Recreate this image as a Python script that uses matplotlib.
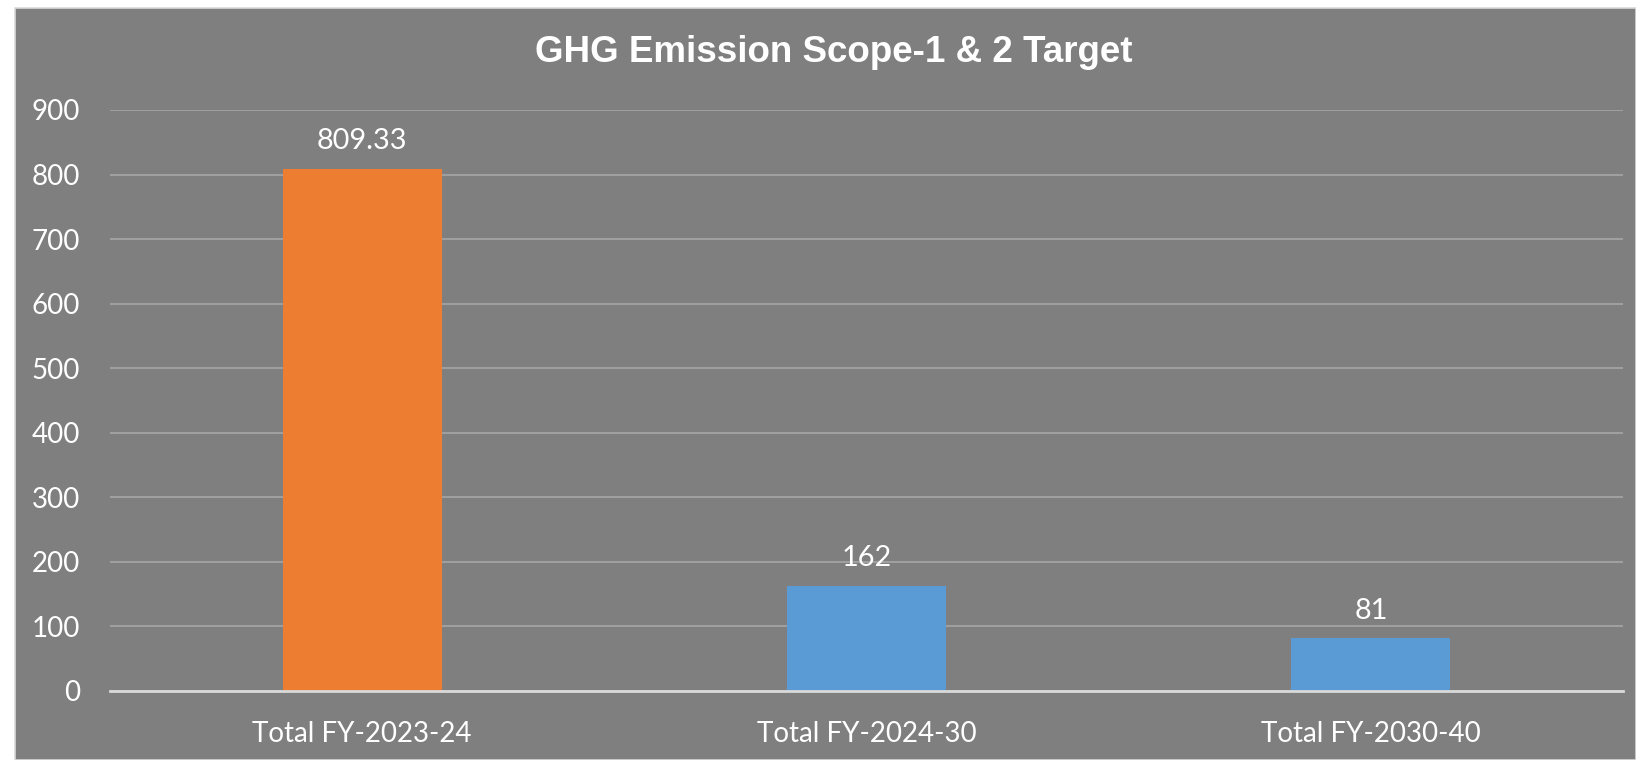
import matplotlib.pyplot as plt
from matplotlib.patches import Rectangle

# data
categories = ["Total FY-2023-24", "Total FY-2024-30", "Total FY-2030-40"]
values = [809.33, 162, 81]
labels = ["809.33", "162", "81"]
colors = ["#ED7D31", "#5B9BD5", "#5B9BD5"]
yticks = [0, 100, 200, 300, 400, 500, 600, 700, 800, 900]

BG = "#7F7F7F"
W, H = 1636, 760

fig = plt.figure(figsize=(W / 100, H / 100), dpi=100, facecolor="white")

# chart area background (slightly offset like the screenshot)
fig.patches.append(Rectangle((15 / W, 0), 1 - 15 / W, 1 - 8 / H, transform=fig.transFigure,
                             facecolor=BG, edgecolor="#D9D9D9", linewidth=1.2, zorder=-10))

ax = fig.add_axes([110 / W, 1 - 690.7 / H, (1623 - 110) / W, (690.7 - 110) / H])
ax.set_facecolor(BG)
ax.patch.set_alpha(0)

x = range(len(categories))
bars = ax.bar(x, values, width=0.315, color=colors, zorder=3)

ax.set_xlim(-0.5, len(categories) - 0.5)
ax.set_ylim(0, 900)
ax.set_yticks(yticks)
ax.set_yticklabels([str(t) for t in yticks])
ax.set_xticks(list(x))
ax.set_xticklabels(categories)

ax.grid(axis="y", color="#A6A6A6", linewidth=1.2, zorder=0)
ax.set_axisbelow(True)
for s in ["top", "right", "left"]:
    ax.spines[s].set_visible(False)
ax.spines["bottom"].set_color("#D9D9D9")
ax.spines["bottom"].set_linewidth(2)
ax.spines["bottom"].set_zorder(4)

ax.tick_params(axis="both", length=0, labelcolor="white", labelsize=20)
ax.tick_params(axis="y", pad=21.5)
ax.tick_params(axis="x", pad=22)
for t in ax.get_xticklabels() + ax.get_yticklabels():
    t.set_family("Lato")

# value labels
for b, lab in zip(bars, labels):
    ax.annotate(lab, (b.get_x() + b.get_width() / 2, b.get_height()),
                xytext=(0, 20), textcoords="offset points", ha="center", va="center",
                color="white", fontsize=20.8, family="Lato")

fig.text(834 / W, 1 - 53 / H, "GHG Emission Scope-1 & 2 Target", ha="center", va="center",
         color="white", fontsize=26.5, fontweight="bold", family="Liberation Sans")

fig.savefig("out.png", dpi=100, facecolor=fig.get_facecolor())
